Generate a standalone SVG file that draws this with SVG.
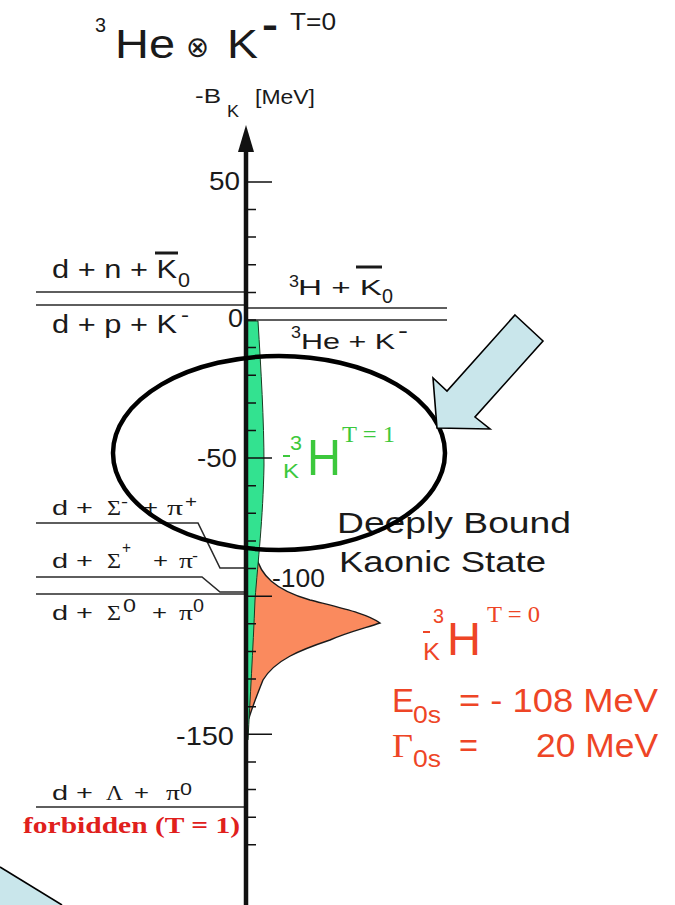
<svg xmlns="http://www.w3.org/2000/svg" width="675" height="905" viewBox="0 0 675 905">
<style>
.s{font-family:"Liberation Sans",Arial,sans-serif;fill:#1a1a1a}
.r{font-family:"Liberation Serif","Times New Roman",serif;fill:#1a1a1a}
.g{fill:#3cc83c}
.o{fill:#ee4526}
.thr{stroke:#2a2a2a;stroke-width:1.6;fill:none}
</style>
<rect width="675" height="905" fill="#fff"/>
<g id="title">
<text class="s" x="95" y="32" font-size="21" textLength="11" lengthAdjust="spacingAndGlyphs">3</text>
<text class="s" x="115" y="58" font-size="40" textLength="60" lengthAdjust="spacingAndGlyphs">He</text>
<text x="186" y="57" font-size="29" font-family="DejaVu Sans,sans-serif" fill="#1a1a1a" textLength="23" lengthAdjust="spacingAndGlyphs">⊗</text>
<text class="s" x="227" y="58" font-size="40" textLength="31" lengthAdjust="spacingAndGlyphs">K</text>
<text class="s" x="262" y="37" font-size="36" font-weight="bold" textLength="16" lengthAdjust="spacingAndGlyphs">-</text>
<text class="s" x="290" y="30" font-size="23" textLength="46" lengthAdjust="spacingAndGlyphs">T=0</text>
</g>
<g id="axis-label">
<text class="s" x="195" y="103" font-size="21" textLength="26" lengthAdjust="spacingAndGlyphs">-B</text>
<text class="s" x="227" y="117" font-size="16" textLength="12" lengthAdjust="spacingAndGlyphs">K</text>
<text class="s" x="255" y="104" font-size="20" textLength="60" lengthAdjust="spacingAndGlyphs">[MeV]</text>
</g>
<g id="connectors">
<path class="thr" d="M36,292H246M36,305H246M246,308H447M246,320H447"/>
<path class="thr" d="M36,523H198L220,568H246M36,577H202L220,592H246M36,594H246M36,807H246"/>
</g>
<g id="states">
<path id="peak-t0" d="M256,555C260,575 275,590 310,600C345,609 368,614 380,623C365,628 345,633 330,640C300,650 275,660 263,680C257,695 252,708 249,718L247,718L247,555Z" fill="#fa8a5e" stroke="#1a1a1a" stroke-width="1.4"/>
<path id="peak-t1" d="M247,321L258,321C261,370 264,420 264,465C263,520 258,560 255,600C253,650 250,700 248,740L247,740Z" fill="#33e290" stroke="#1a3a22" stroke-width="1"/>
</g>
<g id="axis">
<line x1="246" y1="145" x2="246" y2="905" stroke="#111" stroke-width="4.5"/>
<polygon points="246,125 254,152 238,152" fill="#111"/>
<path stroke="#111" stroke-width="1.5" fill="none" d="M246,182H272M246,209.5H256M246,237.1H256M246,264.8H256M246,292.4H256M246,320H256M246,347.6H256M246,375.2H256M246,402.9H256M246,430.5H256M246,458.1H272M246,485.7H256M246,513.3H256M246,541H256M246,568.6H256M246,596.2H272M246,623.8H256M246,651.4H256M246,679.1H256M246,706.7H256M246,734.3H272M246,761.9H256M246,789.5H256M246,817.2H256M246,844.8H256"/>
<text class="s" x="240" y="190" font-size="25" text-anchor="end" textLength="31" lengthAdjust="spacingAndGlyphs">50</text>
<text class="s" x="228" y="327" font-size="25" textLength="15" lengthAdjust="spacingAndGlyphs">0</text>
<text class="s" x="237" y="467" font-size="25" text-anchor="end" textLength="40" lengthAdjust="spacingAndGlyphs">-50</text>
<text class="s" x="272" y="587" font-size="25" textLength="53" lengthAdjust="spacingAndGlyphs">-100</text>
<text class="s" x="234" y="745" font-size="25" text-anchor="end" textLength="58" lengthAdjust="spacingAndGlyphs">-150</text>
</g>
<g id="thr-dnK0">
<text class="s" x="52" y="278" font-size="25" textLength="125" lengthAdjust="spacingAndGlyphs">d + n + K</text>
<line x1="155" y1="253" x2="178" y2="253" stroke="#1a1a1a" stroke-width="3"/>
<text class="s" x="178" y="287" font-size="20" textLength="12" lengthAdjust="spacingAndGlyphs">0</text>
</g>
<g id="thr-dpK">
<text class="s" x="52" y="333" font-size="25" textLength="125" lengthAdjust="spacingAndGlyphs">d + p + K</text>
<text class="s" x="181" y="322" font-size="20" textLength="8" lengthAdjust="spacingAndGlyphs">-</text>
</g>
<g id="thr-HK0">
<text class="s" x="289" y="287" font-size="17" textLength="10" lengthAdjust="spacingAndGlyphs">3</text>
<text class="s" x="298" y="295" font-size="22" textLength="84" lengthAdjust="spacingAndGlyphs">H + K</text>
<line x1="356" y1="267" x2="382" y2="267" stroke="#1a1a1a" stroke-width="3"/>
<text class="s" x="382" y="303" font-size="20" textLength="11" lengthAdjust="spacingAndGlyphs">0</text>
</g>
<g id="thr-HeK">
<text class="s" x="291" y="338" font-size="17" textLength="10" lengthAdjust="spacingAndGlyphs">3</text>
<text class="s" x="301" y="349" font-size="22" textLength="94" lengthAdjust="spacingAndGlyphs">He + K</text>
<text class="s" x="398" y="338" font-size="22" textLength="10" lengthAdjust="spacingAndGlyphs">-</text>
</g>
<g id="thr-SmPp">
<text class="s" x="52" y="515" font-size="21" textLength="41" lengthAdjust="spacingAndGlyphs">d +</text>
<text class="r" x="107" y="515" font-size="22" textLength="14" lengthAdjust="spacingAndGlyphs">Σ</text>
<text class="s" x="121" y="507" font-size="16" textLength="7" lengthAdjust="spacingAndGlyphs">-</text>
<text class="s" x="143" y="515" font-size="21" textLength="15" lengthAdjust="spacingAndGlyphs">+</text>
<text class="r" x="167" y="515" font-size="22" textLength="16" lengthAdjust="spacingAndGlyphs">π</text>
<text class="s" x="185" y="507" font-size="17" textLength="12" lengthAdjust="spacingAndGlyphs">+</text>
</g>
<g id="thr-SpPm">
<text class="s" x="52" y="568" font-size="21" textLength="41" lengthAdjust="spacingAndGlyphs">d +</text>
<text class="r" x="107" y="568" font-size="22" textLength="14" lengthAdjust="spacingAndGlyphs">Σ</text>
<text class="s" x="122" y="553" font-size="17" textLength="9" lengthAdjust="spacingAndGlyphs">+</text>
<text class="s" x="153" y="568" font-size="21" textLength="15" lengthAdjust="spacingAndGlyphs">+</text>
<text class="r" x="179" y="568" font-size="22" textLength="14" lengthAdjust="spacingAndGlyphs">π</text>
<text class="s" x="192" y="561" font-size="16" textLength="6" lengthAdjust="spacingAndGlyphs">-</text>
</g>
<g id="thr-S0P0">
<text class="s" x="52" y="620" font-size="21" textLength="41" lengthAdjust="spacingAndGlyphs">d +</text>
<text class="r" x="107" y="620" font-size="22" textLength="14" lengthAdjust="spacingAndGlyphs">Σ</text>
<text class="s" x="123" y="612" font-size="19" textLength="13" lengthAdjust="spacingAndGlyphs">0</text>
<text class="s" x="152" y="620" font-size="21" textLength="15" lengthAdjust="spacingAndGlyphs">+</text>
<text class="r" x="179" y="620" font-size="22" textLength="14" lengthAdjust="spacingAndGlyphs">π</text>
<text class="s" x="193" y="612" font-size="19" textLength="11" lengthAdjust="spacingAndGlyphs">0</text>
</g>
<g id="thr-LP0">
<text class="s" x="52" y="800" font-size="21" textLength="41" lengthAdjust="spacingAndGlyphs">d +</text>
<text class="r" x="106" y="800" font-size="22" textLength="17" lengthAdjust="spacingAndGlyphs">Λ</text>
<text class="s" x="134" y="800" font-size="21" textLength="15" lengthAdjust="spacingAndGlyphs">+</text>
<text class="r" x="166" y="800" font-size="22" textLength="14" lengthAdjust="spacingAndGlyphs">π</text>
<text class="s" x="180" y="795" font-size="17" textLength="12" lengthAdjust="spacingAndGlyphs">0</text>
<text x="23" y="833" font-size="23" font-weight="bold" font-family="Liberation Serif,serif" fill="#e0201c" textLength="217" lengthAdjust="spacingAndGlyphs">forbidden (T = 1)</text>
</g>
<g id="label-t1">
<text class="s g" x="290" y="450" font-size="21" textLength="12" lengthAdjust="spacingAndGlyphs">3</text>
<line x1="283" y1="456" x2="290" y2="456" stroke="#3cc83c" stroke-width="2"/>
<text class="s g" x="283" y="478" font-size="21" textLength="16" lengthAdjust="spacingAndGlyphs">K</text>
<text class="s g" x="307" y="475" font-size="50" textLength="34" lengthAdjust="spacingAndGlyphs">H</text>
<text class="r g" x="342" y="442" font-size="24" textLength="53" lengthAdjust="spacingAndGlyphs">T = 1</text>
</g>
<g id="label-deep">
<text class="s" x="337" y="533" font-size="30" textLength="234" lengthAdjust="spacingAndGlyphs">Deeply Bound</text>
<text class="s" x="339" y="572" font-size="30" textLength="207" lengthAdjust="spacingAndGlyphs">Kaonic State</text>
</g>
<g id="label-t0">
<text class="s o" x="433" y="623" font-size="21" textLength="11" lengthAdjust="spacingAndGlyphs">3</text>
<line x1="423" y1="632" x2="430" y2="632" stroke="#ee4526" stroke-width="2"/>
<text class="s o" x="423" y="660" font-size="23" textLength="17" lengthAdjust="spacingAndGlyphs">K</text>
<text class="s o" x="447" y="655" font-size="46" textLength="34" lengthAdjust="spacingAndGlyphs">H</text>
<text class="r o" x="487" y="622" font-size="24" textLength="53" lengthAdjust="spacingAndGlyphs">T = 0</text>
<text class="s o" x="392" y="712" font-size="34" textLength="22" lengthAdjust="spacingAndGlyphs">E</text>
<text class="s o" x="413" y="723" font-size="24" textLength="28" lengthAdjust="spacingAndGlyphs">0s</text>
<text class="s o" x="459" y="712" font-size="34" textLength="199" lengthAdjust="spacingAndGlyphs">= - 108 MeV</text>
<text class="r o" x="392" y="757" font-size="33" textLength="21" lengthAdjust="spacingAndGlyphs">Γ</text>
<text class="s o" x="413" y="767" font-size="24" textLength="28" lengthAdjust="spacingAndGlyphs">0s</text>
<text class="s o" x="459" y="757" font-size="34" textLength="19" lengthAdjust="spacingAndGlyphs">=</text>
<text class="s o" x="536" y="757" font-size="34" textLength="122" lengthAdjust="spacingAndGlyphs">20 MeV</text>
</g>
<g id="highlight">
<ellipse cx="279" cy="453" rx="166" ry="97" fill="none" stroke="#000" stroke-width="4.5"/>
<polygon points="515,315 543,341 475,417 490,429 437,428 433,378 447,391" fill="#c9e6eb" stroke="#000" stroke-width="1.6"/>
<polygon points="0,867 62,905 0,905" fill="#c9e6eb"/>
<line x1="0" y1="867" x2="62" y2="905" stroke="#000" stroke-width="1.6"/>
</g>
</svg>
